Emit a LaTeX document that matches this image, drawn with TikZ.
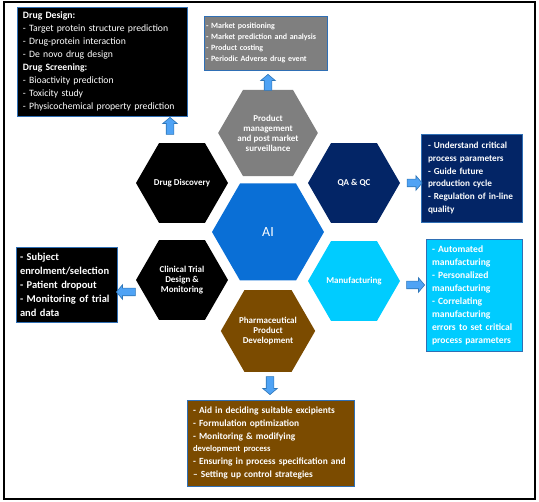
\documentclass[tikz,border=0pt]{standalone}
\usepackage{fontspec}
\setmainfont{Carlito}
\usetikzlibrary{shapes.geometric,shapes.arrows}
\definecolor{arrowfill}{HTML}{4FA3F5}
\definecolor{arrowline}{HTML}{2E75B6}
\definecolor{aiblue}{HTML}{0A6FD6}
\definecolor{navyq}{HTML}{032566}
\definecolor{cyanm}{HTML}{00CCFF}
\definecolor{brownp}{HTML}{7B4B00}
\definecolor{greyp}{HTML}{7F7F7F}
\definecolor{boxline}{HTML}{2F6FB5}
\begin{document}
\begin{tikzpicture}[x=1pt,y=-1pt,
 hexa/.style={regular polygon, regular polygon sides=6, minimum size=92pt, inner sep=0pt, text=white, font=\bfseries\fontsize{9}{10}\selectfont, align=center},
 infobox/.style={draw=boxline, line width=0.8pt, text=white, align=left, inner sep=0pt},
 blockarrow/.style={single arrow, draw=arrowline, fill=arrowfill, line width=0.6pt, inner sep=3.5pt, single arrow head extend=3.5pt, single arrow tip angle=100}]
\useasboundingbox (0,0) rectangle (539,502);
\draw[line width=1.2pt] (4,2) rectangle (535,499);

% hexagons
\node[hexa, fill=aiblue, minimum size=112pt, font=\fontsize{14}{16}\selectfont] (ai) at (268,232) {AI};
\node[hexa, fill=greyp] (pm) at (268,133) {Product\\management\\and post market\\surveillance};
\node[hexa, fill=black] (dd) at (182,183) {Drug Discovery};
\node[hexa, fill=navyq] (qa) at (354,183) {QA \& QC};
\node[hexa, fill=black] (ct) at (182,280) {Clinical Trial\\Design \&\\Monitoring};
\node[hexa, fill=cyanm] (mf) at (354,281) {Manufacturing};
\node[hexa, fill=brownp] (pd) at (268,331) {Pharmaceutical\\Product\\Development};

% boxes
\node[infobox, fill=black, minimum width=170pt, minimum height=109pt, text width=158pt, font=\fontsize{9.7}{13}\selectfont] (ddbox) at (102,61.5)
 {\textbf{Drug Design:}\\- Target protein structure prediction\\- Drug-protein interaction\\- De novo drug design\\\textbf{Drug Screening:}\\- Bioactivity prediction\\- Toxicity study\\- Physicochemical property prediction};
\node[infobox, fill=greyp, minimum width=123pt, minimum height=54pt, text width=119pt, font=\bfseries\fontsize{8}{10.8}\selectfont] (pmbox) at (265.5,43)
 {- Market positioning\\- Market prediction and analysis\\- Product costing\\- Periodic Adverse drug event};
\node[infobox, fill=navyq, minimum width=101pt, minimum height=88pt, text width=87pt, font=\bfseries\fontsize{9.2}{12.7}\selectfont] (qabox) at (471.5,178)
 {- Understand critical\\process parameters\\- Guide future\\production cycle\\- Regulation of in-line\\quality};
\node[infobox, fill=cyanm, minimum width=96pt, minimum height=112pt, text width=84pt, font=\bfseries\fontsize{9.6}{13}\selectfont] (mfbox) at (474,295)
 {- Automated\\manufacturing\\- Personalized\\manufacturing\\- Correlating\\manufacturing\\errors to set critical\\process parameters};
\node[infobox, fill=black, minimum width=101pt, minimum height=75pt, text width=93pt, font=\bfseries\fontsize{10.5}{14}\selectfont] (ctbox) at (66.5,284.5)
 {- Subject\\enrolment/selection\\- Patient dropout\\- Monitoring of trial\\and data};
\node[infobox, fill=brownp, minimum width=167pt, minimum height=86pt, text width=155pt, font=\bfseries\fontsize{9.4}{12.8}\selectfont] (pdbox) at (270.5,443)
 {- Aid in deciding suitable excipients\\- Formulation optimization\\- Monitoring \& modifying\\{\fontsize{8.6}{12.8}\selectfont development process}\\- Ensuring in process specification and\\– Setting up control strategies};

% block arrows
\node[blockarrow, minimum height=16pt, shape border rotate=90] (a1) at (268,84) {};
\node[blockarrow, minimum height=17pt, shape border rotate=90] (a2) at (170,127.5) {};
\node[blockarrow, minimum height=15pt] (a3) at (413,183) {};
\node[blockarrow, minimum height=18pt] (a4) at (414,285) {};
\node[blockarrow, minimum height=19pt, shape border rotate=180] (a5) at (127.5,292) {};
\node[blockarrow, minimum height=18pt, shape border rotate=270] (a6) at (270,384) {};
\end{tikzpicture}
\end{document}
